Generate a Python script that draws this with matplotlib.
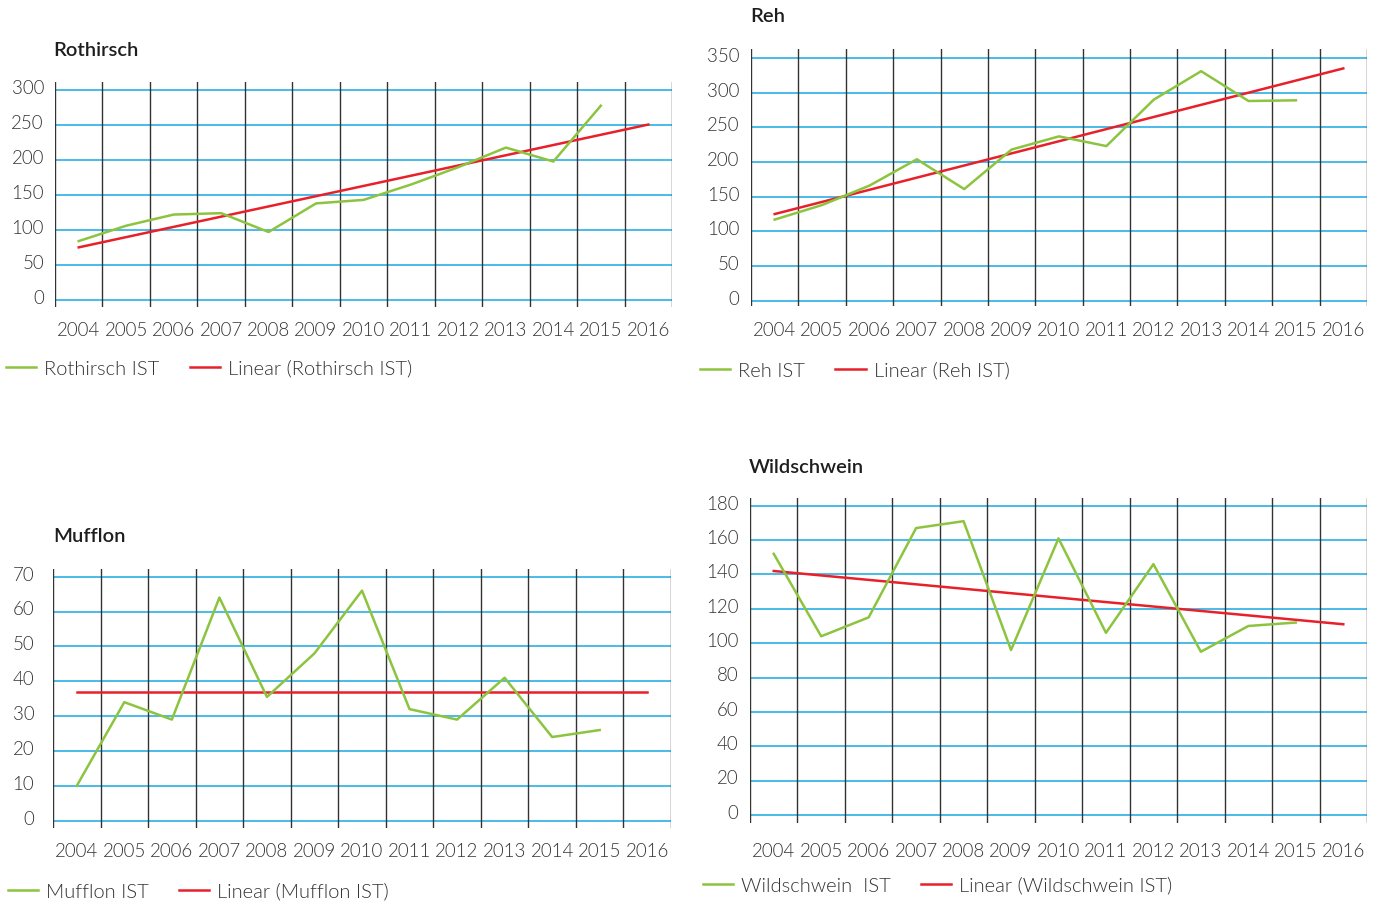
import numpy as np
import matplotlib.pyplot as plt
from matplotlib.transforms import ScaledTranslation

plt.rcParams['font.family'] = ['Lato', 'DejaVu Sans']
plt.rcParams['font.weight'] = 300

# Daten (Abschuss IST je Jahr)
years = ['2004', '2005', '2006', '2007', '2008', '2009', '2010',
         '2011', '2012', '2013', '2014', '2015', '2016']

rothirsch_ist = [84, 106, 122, 124, 97, 138, 143, 165, 190, 218, 198, 278]
rothirsch_linear = [75, 251]          # Trend 2004 -> 2016

reh_ist = [117, 138, 166, 204, 161, 218, 237, 223, 290, 331, 288, 289]
reh_linear = [125, 335]

mufflon_ist = [10, 34, 29, 64, 35.5, 48, 66, 32, 29, 41, 24, 26]
mufflon_linear = [37, 37]

wildschwein_ist = [152, 104, 115, 167, 171, 96, 161, 106, 146, 95, 110, 112]
wildschwein_linear = [142, 111]

GREEN = '#8cc43f'
RED = '#e8202a'
BLUE = '#17a8e3'
GREY = '#333333'

W, H = 1384, 904
fig = plt.figure(figsize=(W / 100, H / 100), dpi=100)

# (titel, ist, linear, legendtext, ymax, step, ylim, box px [l, r, top, bottom],
#  titel-pos, legend-pos, ytick pad, xtick pad)
panels = [
    ('Rothirsch', rothirsch_ist, rothirsch_linear, 'Rothirsch IST', 300, 50,
     (-10.5, 312), (55, 672, 83, 308), (53, 51), (6, 369), 8, 10),
    ('Reh', reh_ist, reh_linear, 'Reh IST', 350, 50,
     (-7.6, 363), (751, 1367, 50, 307), (750, 17), (700, 371), 8.5, 11),
    ('Mufflon', mufflon_ist, mufflon_linear, 'Mufflon IST', 70, 10,
     (-2.1, 72.2), (53, 671, 570, 829), (53, 537), (8, 892), 13.5, 10),
    ('Wildschwein', wildschwein_ist, wildschwein_linear, 'Wildschwein  IST', 180, 20,
     (-4.7, 184.5), (750, 1367, 499, 824), (749, 468), (703, 886), 8.5, 14),
]

for (title, ist, linear, label, ymax, step, ylim, box, tpos, lpos,
     ypad, xpad) in panels:
    l, r, t, b = box
    ax = fig.add_axes([l / W, 1 - b / H, (r - l) / W, (b - t) / H])
    ax.set_xlim(-0.5, len(years) - 0.5)
    ax.set_ylim(*ylim)

    for yv in range(0, ymax + 1, step):
        ax.axhline(yv, color=BLUE, lw=1.1, zorder=1)
    for xv in np.arange(-0.5, len(years), 1.0):
        ax.axvline(xv, color='#333333', lw=1.0, zorder=1)

    x = np.arange(len(ist))
    l1, = ax.plot(x, ist, color=GREEN, lw=1.8, zorder=3)
    l2, = ax.plot([0, len(years) - 1], linear, color=RED, lw=1.8, zorder=2)

    for s in ax.spines.values():
        s.set_visible(False)
    ax.set_xticks(range(len(years)))
    ax.set_xticklabels(years)
    ax.set_yticks(range(0, ymax + 1, step))
    ax.tick_params(axis='both', length=0, labelsize=13.5, labelcolor=GREY)
    ax.tick_params(axis='y', pad=ypad)
    ax.tick_params(axis='x', pad=xpad)
    shift = ScaledTranslation(0, 3 / 72, fig.dpi_scale_trans)
    for lab in ax.get_yticklabels():
        lab.set_transform(lab.get_transform() + shift)

    fig.text(tpos[0] / W, 1 - tpos[1] / H, title, fontsize=14.5,
             fontweight='semibold', color='#1e1e1e', va='center', ha='left')

    fig.legend([l1, l2], [label, 'Linear (' + label.replace('  ', ' ') + ')'],
               loc='center left', bbox_to_anchor=(lpos[0] / W, 1 - lpos[1] / H),
               ncol=2, frameon=False, fontsize=14.5, labelcolor=GREY,
               handlelength=1.5, handletextpad=0.4, columnspacing=1.5,
               borderpad=0, borderaxespad=0)

fig.savefig('out.png', dpi=100)
